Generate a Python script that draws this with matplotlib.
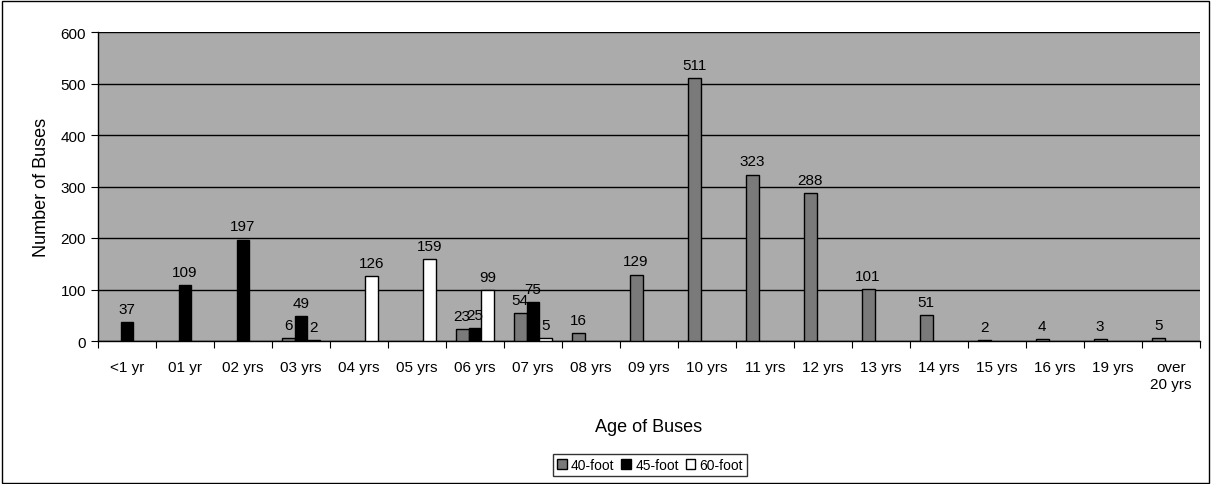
import numpy as np
import matplotlib.pyplot as plt
from matplotlib.patches import Rectangle

plt.rcParams['font.family'] = ['Liberation Sans', 'DejaVu Sans']

# Dane
wiek = ['<1 yr', '01 yr', '02 yrs', '03 yrs', '04 yrs', '05 yrs', '06 yrs', '07 yrs',
        '08 yrs', '09 yrs', '10 yrs', '11 yrs', '12 yrs', '13 yrs', '14 yrs',
        '15 yrs', '16 yrs', '19 yrs', 'over\n20 yrs']
foot40 = [0, 0, 0, 6, 0, 0, 23, 54, 16, 129, 511, 323, 288, 101, 51, 2, 4, 3, 5]
foot45 = [37, 109, 197, 49, 0, 0, 25, 75, 0, 0, 0, 0, 0, 0, 0, 0, 0, 0, 0]
foot60 = [0, 0, 0, 2, 126, 159, 99, 5, 0, 0, 0, 0, 0, 0, 0, 0, 0, 0, 0]

serie = [('40-foot', foot40, '#7a7a7a'),
         ('45-foot', foot45, '#000000'),
         ('60-foot', foot60, '#ffffff')]

fig = plt.figure(figsize=(12.11, 4.85), dpi=100)
ax = fig.add_axes([98 / 1211, 1 - 342 / 485, 1102 / 1211, 309 / 485])
ax.set_facecolor('#ababab')

x = np.arange(len(wiek))
szer = 1 / 4.5

for i, (nazwa, wart, kolor) in enumerate(serie):
    poz = x + (i - 1) * szer
    wys = np.array(wart, dtype=float)
    wys[wys == 0] = np.nan  # zera nie są rysowane
    ax.bar(poz, wys, szer, color=kolor, edgecolor='black', linewidth=1,
           label=nazwa, zorder=3)
    for p, w in zip(poz, wart):
        if w > 0:
            ax.text(p, w + 12, str(w), ha='center', va='bottom', fontsize=11, zorder=4)

ax.set_xlim(-0.5, len(wiek) - 0.5)
ax.set_ylim(0, 600)
ax.set_yticks(range(0, 601, 100))
ax.yaxis.grid(True, color='black', linewidth=1, zorder=1)
ax.set_axisbelow(True)

# Kreski na granicach kategorii
ax.set_xticks(np.arange(-0.5, len(wiek), 1))
ax.set_xticklabels([])
ax.set_xticks(x, minor=True)
ax.set_xticklabels(wiek, minor=True, fontsize=11)
ax.tick_params(axis='x', which='minor', length=0, pad=14)
ax.tick_params(axis='x', which='major', length=5, direction='out')
ax.tick_params(axis='y', labelsize=11, length=5)

for s in ['top', 'right']:
    ax.spines[s].set_visible(False)
ax.spines['left'].set_linewidth(1)
ax.spines['bottom'].set_linewidth(1)

ax.set_ylabel('Number of Buses', fontsize=13, labelpad=8)
ax.set_xlabel('Age of Buses', fontsize=13, labelpad=20)

leg = ax.legend(loc='center', bbox_to_anchor=(650 / 1211, 1 - 466 / 485),
                bbox_transform=fig.transFigure, ncol=3, fontsize=10,
                frameon=True, fancybox=False, edgecolor='black',
                handlelength=0.7, handleheight=0.7, handletextpad=0.3,
                columnspacing=0.5, borderpad=0.3)
leg.get_frame().set_linewidth(1)

# Ramka wokół całego wykresu
fig.patches.append(Rectangle((0.002, 0.003), 0.996, 0.993, transform=fig.transFigure,
                             fill=False, edgecolor='black', linewidth=1))

plt.savefig('out.png', dpi=100)
